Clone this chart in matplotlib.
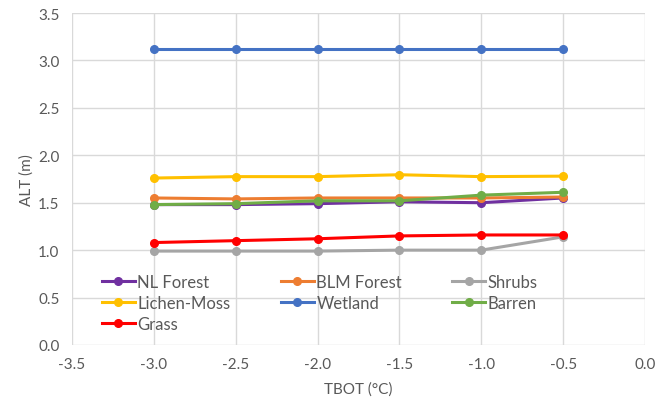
import matplotlib
matplotlib.use('Agg')
import matplotlib.pyplot as plt

plt.rcParams['font.family'] = ['Lato', 'DejaVu Sans']

tbot = [-3.0, -2.5, -2.0, -1.5, -1.0, -0.5]

nl_forest = [1.48, 1.48, 1.49, 1.51, 1.50, 1.55]
blm_forest = [1.55, 1.54, 1.55, 1.55, 1.55, 1.56]
shrubs = [0.99, 0.99, 0.99, 1.00, 1.00, 1.14]
lichen_moss = [1.76, 1.775, 1.775, 1.795, 1.775, 1.78]
wetland = [3.12, 3.12, 3.12, 3.12, 3.12, 3.12]
barren = [1.48, 1.49, 1.52, 1.52, 1.58, 1.61]
grass = [1.08, 1.10, 1.12, 1.15, 1.16, 1.16]

series = [
    ('NL Forest', nl_forest, '#7030A0'),
    ('BLM Forest', blm_forest, '#ED7D31'),
    ('Shrubs', shrubs, '#A5A5A5'),
    ('Lichen-Moss', lichen_moss, '#FFC000'),
    ('Wetland', wetland, '#4472C4'),
    ('Barren', barren, '#70AD47'),
    ('Grass', grass, '#FF0000'),
]

text_color = '#595959'
grid_color = '#D9D9D9'

fig = plt.figure(figsize=(6.59, 4.10), dpi=100)
ax = fig.add_axes([72 / 659, 1 - 346 / 410, (645 - 72) / 659, (346 - 14) / 410])

handles = {}
for name, vals, color in series:
    line, = ax.plot(tbot, vals, color=color, lw=2.2, marker='o', ms=5.5, label=name)
    handles[name] = line

ax.set_xlim(-3.5, 0.0)
ax.set_ylim(0.0, 3.5)
ax.set_xticks([-3.5, -3.0, -2.5, -2.0, -1.5, -1.0, -0.5, 0.0])
ax.set_yticks([0.0, 0.5, 1.0, 1.5, 2.0, 2.5, 3.0, 3.5])
ax.xaxis.set_major_formatter(matplotlib.ticker.FormatStrFormatter('%.1f'))
ax.yaxis.set_major_formatter(matplotlib.ticker.FormatStrFormatter('%.1f'))

ax.grid(True, color=grid_color, lw=1.0)
ax.set_axisbelow(True)
for s in ax.spines.values():
    s.set_visible(False)
ax.tick_params(length=0, labelsize=11, colors=text_color, pad=9)

ax.set_xlabel('TBOT (°C)', fontsize=11, color=text_color, labelpad=7)
ax.set_ylabel('ALT (m)', fontsize=11, color=text_color, labelpad=3)

# legend fills column-wise, so order the handles to read row by row
order = ['NL Forest', 'Lichen-Moss', 'Grass',
         'BLM Forest', 'Wetland',
         'Shrubs', 'Barren']
leg = ax.legend([handles[n] for n in order], order, ncol=3,
                loc='lower left', bbox_to_anchor=(0.04, 0.02),
                frameon=False, fontsize=12, handlelength=2.0,
                handletextpad=0.15, columnspacing=3.0, labelspacing=0.3,
                borderaxespad=0)
for t in leg.get_texts():
    t.set_color(text_color)

fig.savefig('out.png', dpi=100)
